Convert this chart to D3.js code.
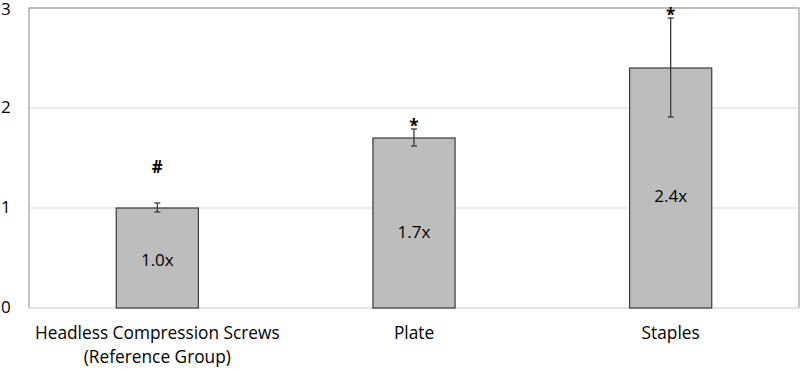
<!DOCTYPE html>
<html>
<head>
<meta charset="utf-8">
<script src="https://cdn.jsdelivr.net/npm/d3@7"></script>
<style>
  body { margin: 0; background: #fff; }
  text { font-family: "Open Sans", "Noto Sans", sans-serif; fill: #000; }
</style>
</head>
<body>
<svg id="canvas" width="800" height="369"></svg>
<script>
// chart data
const groups = ["Headless Compression Screws|(Reference Group)", "Plate", "Staples"];
const ratios = [1.0, 1.7, 2.4];
const errLow = [0.96, 1.62, 1.91];
const errHigh = [1.05, 1.79, 2.90];
const barLabels = ["1.0x", "1.7x", "2.4x"];
const marks = ["#", "*", "*"];
const yTicks = [0, 1, 2, 3];

let svg = d3.select("#canvas");
let plotLeft = 29, plotRight = 799, plotTop = 8, plotBottom = 308;

var x = d3.scaleBand()
  .domain(groups)
  .range([plotLeft, plotRight]);

var y = d3.scaleLinear()
  .domain([0, 3])
  .range([plotBottom, plotTop]);

let barW = x.bandwidth() * 0.32;

//gridlines
svg.append("g")
  .selectAll("line")
  .data(yTicks.slice(1, 3))
  .join("line")
    .attr("x1", plotLeft).attr("x2", plotRight)
    .attr("y1", d => y(d)).attr("y2", d => y(d))
    .attr("stroke", "#d9d9d9")
    .attr("stroke-width", 1);

//plot frame (top, left, right) and base line
svg.append("path")
  .attr("d", `M${plotLeft},${plotBottom}V${plotTop}H${plotRight}V${plotBottom}`)
  .attr("fill", "none")
  .attr("stroke", "#a6a6a6")
  .attr("stroke-width", 1.3);
svg.append("line")
  .attr("x1", plotLeft).attr("x2", plotRight)
  .attr("y1", plotBottom).attr("y2", plotBottom)
  .attr("stroke", "#c8c8c8");

//y tick labels
svg.append("g")
  .selectAll("text")
  .data(yTicks)
  .join("text")
    .attr("x", 1)
    .attr("y", d => Math.max(y(d) + 5, 15))
    .style("font-size", "17px")
    .text(d => d);

//bars
svg.append("g")
  .selectAll("rect")
  .data(groups)
  .join("rect")
    .attr("x", d => x(d) + x.bandwidth() / 2 - barW / 2)
    .attr("y", (d, i) => y(ratios[i]))
    .attr("width", barW)
    .attr("height", (d, i) => y(0) - y(ratios[i]))
    .attr("fill", "#bdbdbd")
    .attr("stroke", "#3a3a3a")
    .attr("stroke-width", 1.2);

//error bars
let eg = svg.append("g").attr("stroke", "#3a3a3a").attr("stroke-width", 1.3);
groups.forEach((g, i) => {
  let cx = x(g) + x.bandwidth() / 2;
  eg.append("line").attr("x1", cx).attr("x2", cx).attr("y1", y(errLow[i])).attr("y2", y(errHigh[i]));
  eg.append("line").attr("x1", cx - 3).attr("x2", cx + 3).attr("y1", y(errLow[i])).attr("y2", y(errLow[i]));
  eg.append("line").attr("x1", cx - 3).attr("x2", cx + 3).attr("y1", y(errHigh[i])).attr("y2", y(errHigh[i]));
});

//labels inside bars (placed a bit below the middle like the original)
const labelFrac = [0.485, 0.447, 0.469];
svg.append("g")
  .selectAll("text")
  .data(groups)
  .join("text")
    .attr("x", d => x(d) + x.bandwidth() / 2)
    .attr("y", (d, i) => y(ratios[i] * labelFrac[i]))
    .attr("dy", "0.36em")
    .attr("text-anchor", "middle")
    .style("font-size", "17px")
    .text((d, i) => barLabels[i]);

//significance marks
svg.append("g")
  .selectAll("text")
  .data(groups)
  .join("text")
    .attr("x", d => x(d) + x.bandwidth() / 2)
    .attr("y", (d, i) => i == 0 ? y(errHigh[i]) - 30 : y(errHigh[i]) + 3)
    .attr("text-anchor", "middle")
    .style("font-size", "17px")
    .style("font-weight", "bold")
    .text((d, i) => marks[i]);

//category labels
let cl = svg.append("g")
  .selectAll("text")
  .data(groups)
  .join("text")
    .attr("x", d => x(d) + x.bandwidth() / 2)
    .attr("y", 339)
    .attr("text-anchor", "middle")
    .style("font-size", "17.3px");
cl.selectAll("tspan")
  .data(d => d.split("|").map(t => ({t, cx: x(d) + x.bandwidth() / 2})))
  .join("tspan")
    .attr("x", d => d.cx)
    .attr("dy", (d, i) => i ? 24 : 0)
    .text(d => d.t);
</script>
</body>
</html>
